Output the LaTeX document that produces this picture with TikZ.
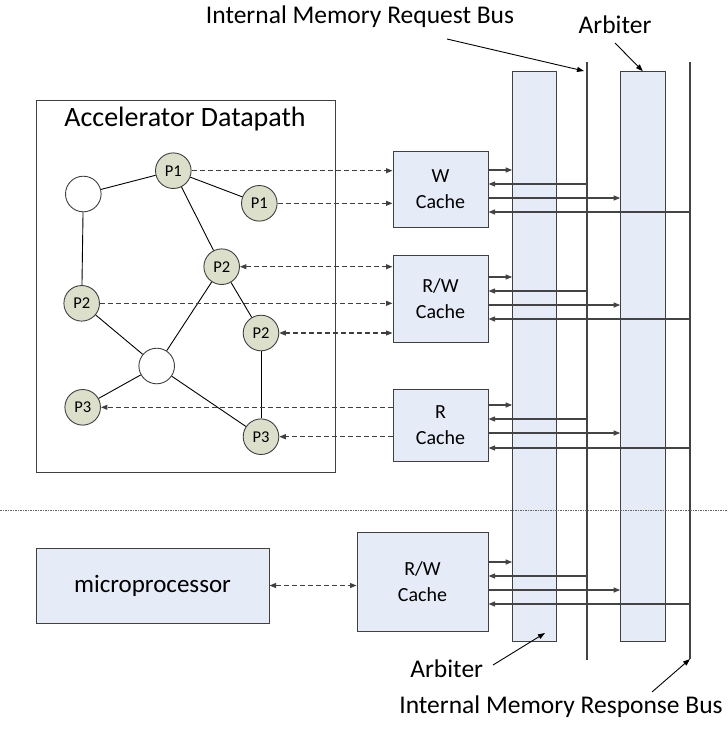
\documentclass[tikz,border=0pt]{standalone}
\usepackage{fontspec}
\setmainfont{Carlito}
\usetikzlibrary{arrows.meta,calc}
\definecolor{panelfill}{RGB}{230,236,247}
\definecolor{opfill}{RGB}{220,224,202}
\definecolor{edgegray}{RGB}{64,64,64}
\definecolor{busgray}{RGB}{68,68,68}

\begin{document}
\begin{tikzpicture}[x=1pt,y=-1pt,
  blk/.style={draw=edgegray, line width=1pt, fill=panelfill, inner sep=0pt,
    align=center, font=\fontsize{20}{25.6}\selectfont},
  op/.style={circle, draw=edgegray, line width=0.9pt, fill=opfill,
    minimum size=35.6pt, inner sep=0pt, font=\fontsize{16.5}{16.5}\selectfont},
  blank/.style={op, fill=white},
  link/.style={line width=0.9pt, black},
  dlink/.style={line width=1.05pt, edgegray, dash pattern=on 5pt off 3pt},
  onetip/.style={-{Triangle[length=6.5pt,width=5pt]}},
  twotips/.style={{Triangle[length=6.5pt,width=5pt]}-{Triangle[length=6.5pt,width=5pt]}},
  busline/.style={line width=1.8pt, busgray},
  busarrow/.style={line width=1.2pt, busgray, -{Triangle[length=6.5pt,width=5pt]}},
  ptr/.style={line width=0.9pt, black, -{Triangle[length=7pt,width=5pt]}},
  lbl/.style={font=\fontsize{25.5}{25.5}\selectfont, inner sep=0pt},
  sepline/.style={line width=0.8pt, gray!80!black, dash pattern=on 1.5pt off 1pt}
]
\useasboundingbox (0,0) rectangle (728,732);

% accelerator datapath frame and title
\node[draw=edgegray, line width=1pt, minimum width=299pt, minimum height=372.7pt,
  inner sep=0pt] (accel) at (185.5,286.35) {};
\node[font=\fontsize{28}{28}\selectfont, inner sep=0pt, anchor=base] (acctitle)
  at (185,126.7) {Accelerator Datapath};

% dataflow graph nodes
\node[blank] (n0)  at (83.3,194)  {};
\node[op]    (p1a) at (173.3,170.7) {P1};
\node[op]    (p1b) at (259.3,203.3) {P1};
\node[op]    (p2a) at (221.7,266.7) {P2};
\node[op]    (p2b) at (81.7,303.3)  {P2};
\node[op]    (p2c) at (261,333)     {P2};
\node[blank] (n1)  at (156.7,366)   {};
\node[op]    (p3a) at (82.7,407.3)  {P3};
\node[op]    (p3b) at (261,436.7)   {P3};

\draw[link] (n0) -- (p1a);
\draw[link] (n0) -- (p2b);
\draw[link] (p1a) -- (p1b);
\draw[link] (p1a) -- (p2a);
\draw[link] (p2a) -- (n1);
\draw[link] (p2a) -- (p2c);
\draw[link] (p2b) -- (n1);
\draw[link] (p2c) -- (p3b);
\draw[link] (n1) -- (p3a);
\draw[link] (n1) -- (p3b);

% caches and microprocessor
\node[blk, minimum width=95pt, minimum height=76pt]  (wc)  at (440.5,189)   {W\\Cache};
\node[blk, minimum width=95pt, minimum height=87pt]  (rwa) at (440.5,298.5) {R/W\\Cache};
\node[blk, minimum width=95pt, minimum height=72pt]  (rc)  at (440.5,425)   {R\\Cache};
\node[blk, minimum width=131pt, minimum height=99pt] (rwb) at (422.5,581.5) {R/W\\Cache};
\node[blk, minimum width=233pt, minimum height=75pt, font=\fontsize{25}{25}\selectfont]
  (cpu) at (152.5,585.5) {microprocessor};

% arbiters
\node[blk, minimum width=43.6pt, minimum height=570pt] (arbA) at (534.5,356.7) {};
\node[blk, minimum width=44.3pt, minimum height=570pt] (arbB) at (642.85,356.7) {};

% request and response buses
\coordinate (reqtop) at (587,62);
\coordinate (reqbot) at (587,660);
\coordinate (rsptop) at (690,62);
\coordinate (rspbot) at (690,659);
\draw[busline] (reqtop) -- (reqbot);
\draw[busline] (rsptop) -- (rspbot);

% datapath to cache links
\draw[dlink, onetip]  (p1a) -- (wc.west |- p1a);
\draw[dlink, onetip]  (p1b) -- (wc.west |- p1b);
\draw[dlink, twotips] (p2a) -- (rwa.west |- p2a);
\draw[dlink, onetip]  (p2b) -- (rwa.west |- p2b);
\draw[dlink, twotips] (p2c) -- (rwa.west |- p2c);
\draw[dlink, onetip]  (rc.west |- p3a) -- (p3a);
\draw[dlink, onetip]  (rc.west |- p3b) -- (p3b);
\draw[dlink, twotips] (cpu) -- (rwb.west |- cpu);

% cache ports to arbiters and buses
\foreach \c/\ya/\yb/\yc/\yd in {wc/170/184/198/212, rwa/277/291/305/319,
    rc/405/419/433/448, rwb/562/576/590/604} {
  \draw[busarrow] (\c.east |- 0,\ya) -- (arbA.west |- 0,\ya);
  \draw[busarrow] (reqtop |- 0,\yb) -- (\c.east |- 0,\yb);
  \draw[busarrow] (\c.east |- 0,\yc) -- (arbB.west |- 0,\yc);
  \draw[busarrow] (rsptop |- 0,\yd) -- (\c.east |- 0,\yd);
}

% separator between accelerator and host
\coordinate (sepL) at (0,510.7);
\coordinate (sepR) at (728,510.7);
\draw[sepline] (sepL) -- (sepR);

% callout labels
\node[lbl, anchor=base] (reqlbl)  at (360,23)    {Internal Memory Request Bus};
\node[lbl, anchor=base] (arblblA) at (615,33)    {Arbiter};
\node[lbl, anchor=base] (arblblB) at (446.7,677) {Arbiter};
\node[lbl, anchor=base] (rsplbl)  at (561,713)   {Internal Memory Response Bus};

\coordinate (reqptr) at (447,39);
\coordinate (reqhit) at (584,71);
\coordinate (arbptr) at (615,43);
\coordinate (arbptrB) at (493,665);
\coordinate (arbhitB) at (545,633);
\coordinate (rspptr) at (652,692);
\draw[ptr] (reqptr) -- (reqhit);
\draw[ptr] (arbptr) -- (arbB.north);
\draw[ptr] (arbptrB) -- (arbhitB);
\draw[ptr] (rspptr) -- (rspbot);
\end{tikzpicture}
\end{document}
